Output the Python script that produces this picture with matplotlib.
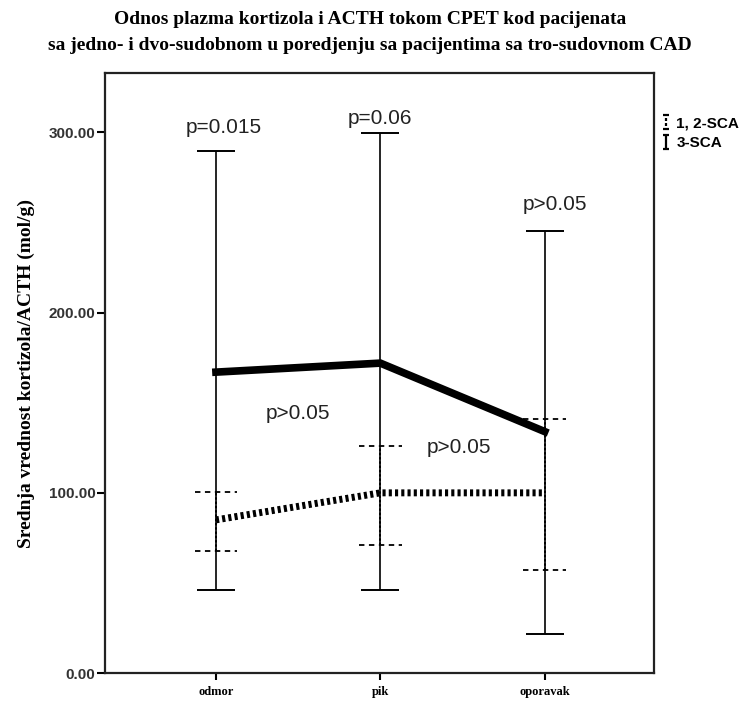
import matplotlib.pyplot as plt
from matplotlib.lines import Line2D
from matplotlib.path import Path
from matplotlib.ticker import FormatStrFormatter

# faze testa
faze = ["odmor", "pik", "oporavak"]
x = [0, 1, 2]

# grupa sa punom linijom
sred_a = [167, 172, 134]
gore_a = [289.5, 299.5, 245.5]
dole_a = [46, 46, 21.5]

# grupa sa tackastom linijom
sred_b = [85, 100, 100]
gore_b = [100.5, 126, 141]
dole_b = [68, 71, 57]

# p vrednosti
p_txt = ["p=0.015", "p=0.06", "p>0.05", "p>0.05", "p>0.05"]
p_x = [0.05, 1.0, 2.06, 0.5, 1.48]
p_y = [303, 308, 260, 144, 125]

fig = plt.figure(figsize=(7.4, 7.11), dpi=100)
ax = fig.add_axes([0.1419, 0.0534, 0.7419, 0.8439])

# error bars (pune)
ax.vlines(x, dole_a, gore_a, color="black", lw=1.2, zorder=2)
ax.hlines(gore_a, [i - 0.115 for i in x], [i + 0.115 for i in x], color="black", lw=1.4)
ax.hlines(dole_a, [i - 0.115 for i in x], [i + 0.115 for i in x], color="black", lw=1.4)

# error bars (isprekidane)
ax.vlines(x, dole_b, gore_b, color="black", lw=1.4, linestyles=(0, (1.2, 1.0)), zorder=3)
ax.hlines(gore_b, [i - 0.13 for i in x], [i + 0.13 for i in x], color="black", lw=1.3, linestyles=(0, (3, 2.5)))
ax.hlines(dole_b, [i - 0.13 for i in x], [i + 0.13 for i in x], color="black", lw=1.3, linestyles=(0, (3, 2.5)))

# srednje vrednosti
ax.plot(x, sred_a, color="black", lw=5.5, solid_joinstyle="miter", zorder=4)
ax.plot(x, sred_b, color="black", lw=5, linestyle=(0, (0.45, 0.45)), zorder=4)

for px, py, t in zip(p_x, p_y, p_txt):
    ax.text(px, py, t, ha="center", va="center", fontsize=15, family="Liberation Sans", color="#222222")

ax.set_xlim(-0.675, 2.665)
ax.set_ylim(0, 333)
ax.set_xticks(x)
ax.set_xticklabels(faze, family="Liberation Serif", fontweight="bold", fontsize=9)
ax.set_yticks([0, 100, 200, 300])
ax.yaxis.set_major_formatter(FormatStrFormatter("%.2f"))
for lab in ax.get_yticklabels():
    lab.set_family("Liberation Sans")
    lab.set_fontweight("bold")
    lab.set_fontsize(11)
    lab.set_color("#333333")
ax.tick_params(axis="y", direction="out", length=6, width=1.5, pad=1)
ax.tick_params(axis="x", direction="out", length=5, width=1.5, pad=4)
for s in ax.spines.values():
    s.set_linewidth(1.6)
    s.set_color("#222222")

ax.set_ylabel("Srednja vrednost kortizola/ACTH (mol/g)", family="Liberation Serif",
              fontweight="bold", fontsize=14, labelpad=10)

fig.suptitle("Odnos plazma kortizola i ACTH tokom CPET kod pacijenata\n"
             "sa jedno- i dvo-sudobnom u poredjenju sa pacijentima sa tro-sudovnom CAD",
             family="Liberation Serif", fontweight="bold", fontsize=14, y=0.984, linespacing=1.7)

# ikonice za legendu
M, L = Path.MOVETO, Path.LINETO
puna = Path([(-0.4, 1), (0.4, 1), (0, 1), (0, -1), (-0.4, -1), (0.4, -1)], [M, L, M, L, M, L])
isprekidana = Path([(-0.4, 1), (0.4, 1), (0, 0.6), (0, 0.2), (0, -0.2), (0, -0.6), (-0.4, -1), (0.4, -1)],
                   [M, L, M, L, M, L, M, L])
handles = [Line2D([], [], linestyle="none", marker=isprekidana, color="black", markersize=10, markeredgewidth=1.6),
           Line2D([], [], linestyle="none", marker=puna, color="black", markersize=10, markeredgewidth=1.6)]
leg = ax.legend(handles, ["1, 2-SCA", "3-SCA"], loc="upper left", bbox_to_anchor=(0.995, 0.945),
                frameon=False, handlelength=0.5, handletextpad=0.45, labelspacing=0.35,
                prop={"family": "Liberation Sans", "weight": "bold", "size": 11}, borderpad=0.2)

plt.savefig("out.png", dpi=100)
